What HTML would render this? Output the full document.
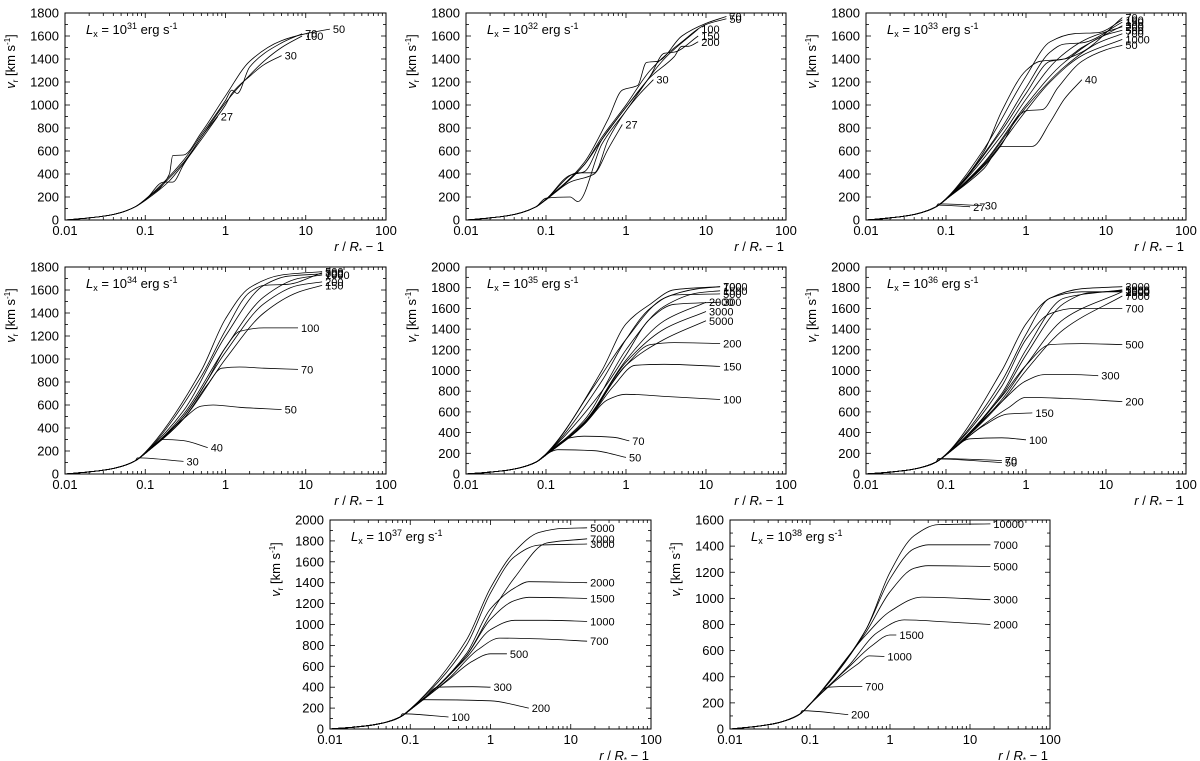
<!DOCTYPE html>
<html><head><meta charset="utf-8"><style>
body{margin:0;background:#fff}
svg{display:block}
text{font-family:"Liberation Sans",sans-serif;fill:#000}
</style></head><body>
<svg id="fig" width="1200" height="761" viewBox="0 0 1200 761"></svg>
<script>
const B=[[0.01,0],[0.02,18],[0.035,40],[0.05,65],[0.075,115]];
const xTicks=[0.01,0.1,1,10,100];
const xTickLabels=["0.01","0.1","1","10","100"];
const lumExp=["31","32","33","34","35","36","37","38"];
const yMaxes=[1800,1800,1800,1800,2000,2000,2000,1600];
const p1=[
 ["27",[...B,[0.1,170],[0.2,340],[0.3,490],[0.5,700],[0.8,900]]],
 ["30",[...B,[0.1,175],[0.17,330],[0.22,330],[0.3,480],[0.5,720],[1,1000],[1.2,1100],[2,1250],[3,1350],[5,1430]]],
 ["50",[...B,[0.1,180],[0.2,400],[0.22,560],[0.3,565],[0.5,760],[1,1080],[2,1380],[5,1560],[10,1620],[20,1660]]],
 ["70",[...B,[0.1,180],[0.3,520],[0.5,740],[1,1040],[1.2,1130],[1.4,1100],[2,1330],[5,1540],[9,1620]]],
 ["100",[...B,[0.1,175],[0.3,500],[0.5,720],[1,1020],[2,1260],[3,1380],[5,1500],[9,1600]]]];
const p2=[
 ["27",[...B,[0.1,175],[0.2,330],[0.4,400],[0.6,620],[0.9,830]]],
 ["30",[...B,[0.1,180],[0.25,410],[0.4,410],[0.6,700],[1,950],[1.5,1100],[2.2,1220]]],
 ["50",[...B,[0.1,180],[0.3,480],[0.5,720],[1,1000],[2,1300],[5,1550],[10,1700],[18,1750]]],
 ["70",[...B,[0.1,180],[0.3,500],[0.6,880],[0.9,1130],[1.4,1170],[1.8,1370],[2.5,1380],[5,1600],[10,1710],[18,1770]]],
 ["100",[...B,[0.1,190],[0.2,200],[0.25,160],[0.5,660],[1,950],[3,1400],[8,1660]]],
 ["150",[...B,[0.1,180],[0.2,390],[0.3,420],[0.5,700],[1,980],[2,1250],[3,1450],[4,1460],[8,1600]]],
 ["200",[...B,[0.1,180],[0.3,480],[0.5,700],[1,980],[2,1240],[4,1420],[5,1510],[6,1510],[8,1550]]]];
const p3=[
 ["27",[...B,[0.08,130],[0.2,115]]],
 ["30",[...B,[0.08,140],[0.28,125]]],
 ["40",[...B,[0.1,180],[0.3,450],[0.5,640],[1.2,640],[2,850],[3,1050],[5,1220]]],
 ["50",[...B,[0.1,180],[0.3,470],[0.5,660],[0.8,900],[1,950],[1.6,960],[2.5,1150],[5,1380],[10,1480],[16,1520]]],
 ["1000",[...B,[0.1,180],[0.3,480],[1,950],[2,1200],[5,1430],[16,1570]]],
 ["700",[...B,[0.1,180],[0.3,490],[1,980],[3,1330],[8,1540],[16,1620]]],
 ["500",[...B,[0.1,180],[0.3,500],[1,1000],[3,1370],[10,1610],[16,1650]]],
 ["200",[...B,[0.1,180],[0.5,740],[1,1050],[2.5,1400],[6,1580],[16,1680]]],
 ["300",[...B,[0.1,180],[0.5,780],[1,1100],[2,1380],[3,1400],[5,1500],[16,1690]]],
 ["150",[...B,[0.1,180],[0.4,700],[1,1150],[2,1460],[3,1530],[5,1540],[16,1720]]],
 ["100",[...B,[0.1,185],[0.3,620],[1,1250],[2,1550],[4,1620],[8,1630],[16,1740]]],
 ["70",[...B,[0.1,185],[0.3,600],[0.5,950],[1,1300],[1.5,1380],[3,1400],[5,1460],[16,1760]]]];
const p4=[
 ["30",[...B,[0.08,140],[0.3,110]]],
 ["40",[...B,[0.1,180],[0.17,300],[0.3,290],[0.6,230]]],
 ["50",[...B,[0.1,180],[0.3,480],[0.5,590],[0.7,600],[1.5,580],[5,560]]],
 ["70",[...B,[0.1,180],[0.3,480],[0.6,780],[0.9,920],[1.5,930],[3,920],[8,910]]],
 ["100",[...B,[0.1,180],[0.3,500],[0.6,820],[1,1100],[1.5,1240],[3,1270],[8,1270]]],
 ["150",[...B,[0.1,180],[0.3,480],[1,1000],[3,1400],[8,1580],[16,1640]]],
 ["200",[...B,[0.1,180],[0.3,500],[1,1060],[3,1480],[8,1640],[16,1670]]],
 ["1000",[...B,[0.1,180],[0.3,520],[1,1100],[3,1540],[8,1700],[16,1730]]],
 ["700",[...B,[0.1,185],[0.3,550],[1,1200],[3,1640],[6,1720],[16,1740]]],
 ["300",[...B,[0.1,185],[0.5,850],[1,1250],[2,1580],[3,1640],[6,1650],[16,1750]]],
 ["500",[...B,[0.1,190],[0.5,900],[1,1350],[2,1620],[5,1730],[16,1760]]]];
const p5=[
 ["50",[...B,[0.1,190],[0.14,235],[0.4,225],[1,160]]],
 ["70",[...B,[0.1,190],[0.2,350],[0.3,365],[0.7,355],[1.1,320]]],
 ["100",[...B,[0.1,185],[0.3,480],[0.6,720],[1,770],[3,750],[15,720]]],
 ["150",[...B,[0.1,185],[0.3,480],[0.7,850],[1.3,1050],[3,1060],[15,1040]]],
 ["200",[...B,[0.1,185],[0.3,500],[1,1050],[2,1250],[4,1270],[15,1260]]],
 ["5000",[...B,[0.1,185],[0.3,480],[1,1050],[3,1300],[10,1480]]],
 ["3000",[...B,[0.1,185],[0.3,490],[1,1080],[3,1400],[10,1570]]],
 ["300",[...B,[0.1,190],[0.5,800],[1,1150],[2,1500],[4,1640],[15,1660]]],
 ["2000",[...B,[0.1,185],[0.3,500],[1,1100],[3,1480],[10,1660]]],
 ["1500",[...B,[0.1,190],[0.3,520],[1,1200],[3,1620],[8,1750],[15,1770]]],
 ["500",[...B,[0.1,190],[0.5,900],[1,1300],[2,1600],[4,1730],[15,1740]]],
 ["700",[...B,[0.1,195],[0.5,1000],[1,1450],[2,1640],[4,1780],[15,1810]]],
 ["1000",[...B,[0.1,190],[0.4,850],[1,1300],[3,1700],[8,1790],[15,1810]]]];
const p6=[
 ["50",[...B,[0.08,145],[0.5,110]]],
 ["70",[...B,[0.08,150],[0.5,130]]],
 ["100",[...B,[0.1,185],[0.2,340],[0.5,350],[1,330]]],
 ["150",[...B,[0.1,185],[0.3,470],[0.6,580],[1.2,590]]],
 ["200",[...B,[0.1,185],[0.3,480],[0.6,640],[1,740],[3,730],[16,700]]],
 ["300",[...B,[0.1,185],[0.5,700],[1,900],[1.7,960],[4,960],[8,950]]],
 ["500",[...B,[0.1,185],[0.5,750],[1,1050],[2,1250],[5,1260],[16,1250]]],
 ["700",[...B,[0.1,190],[0.5,850],[1,1300],[2,1550],[4,1600],[16,1600]]],
 ["7000",[...B,[0.1,185],[0.5,700],[1,1000],[3,1400],[16,1720]]],
 ["1500",[...B,[0.1,185],[0.5,720],[1,1050],[3,1500],[16,1760]]],
 ["1000",[...B,[0.1,185],[0.5,760],[1,1150],[3,1650],[6,1750],[16,1770]]],
 ["5000",[...B,[0.1,185],[0.5,780],[1,1200],[3,1700],[16,1780]]],
 ["2000",[...B,[0.1,190],[0.5,900],[1,1350],[2,1700],[5,1760],[16,1760]]],
 ["3000",[...B,[0.1,190],[0.5,1000],[1,1450],[2,1700],[5,1790],[16,1810]]]];
const p7=[
 ["100",[...B,[0.08,145],[0.3,115]]],
 ["200",[...B,[0.1,190],[0.15,280],[1,270],[3,200]]],
 ["300",[...B,[0.1,190],[0.15,300],[0.22,400],[0.6,405],[1,400]]],
 ["500",[...B,[0.1,185],[0.3,470],[0.6,650],[1,720],[1.6,720]]],
 ["700",[...B,[0.1,185],[0.3,480],[0.7,760],[1.3,870],[5,860],[16,840]]],
 ["1000",[...B,[0.1,185],[0.5,680],[1,950],[2,1040],[5,1040],[16,1030]]],
 ["1500",[...B,[0.1,185],[0.5,700],[1,1050],[2,1230],[3,1260],[16,1250]]],
 ["2000",[...B,[0.1,185],[0.5,720],[1,1150],[2,1350],[3,1410],[16,1400]]],
 ["3000",[...B,[0.1,190],[0.5,800],[1,1300],[2,1650],[4,1760],[16,1770]]],
 ["7000",[...B,[0.1,185],[0.5,700],[1,1100],[2,1450],[5,1780],[16,1820]]],
 ["5000",[...B,[0.1,190],[0.5,850],[1,1350],[2,1700],[4,1880],[8,1920],[16,1925]]]];
const p8=[
 ["200",[...B,[0.08,140],[0.3,110]]],
 ["700",[...B,[0.1,190],[0.17,320],[0.3,325],[0.45,325]]],
 ["1000",[...B,[0.1,190],[0.2,360],[0.4,500],[0.55,560],[0.85,555]]],
 ["1500",[...B,[0.1,190],[0.3,470],[0.6,640],[1,720],[1.2,720]]],
 ["2000",[...B,[0.1,190],[0.3,480],[0.7,740],[1.5,835],[5,820],[18,800]]],
 ["3000",[...B,[0.1,190],[0.5,720],[1,900],[2.5,1010],[18,990]]],
 ["5000",[...B,[0.1,190],[0.5,740],[1,1050],[2,1230],[3,1250],[18,1245]]],
 ["7000",[...B,[0.1,190],[0.5,760],[1,1150],[2,1380],[3,1410],[18,1410]]],
 ["10000",[...B,[0.1,190],[0.5,760],[1,1200],[2,1480],[4,1565],[18,1570]]]];
const panelsData=[p1,p2,p3,p4,p5,p6,p7,p8];

const rects=[[65,13,386,220],[466,13,786,220],[866,13,1186,220],[65,267,386,474],[466,267,786,474],[866,267,1186,474],[330,520,651,729],[730,520,1050,729]];
const NS="http://www.w3.org/2000/svg";
const svg=document.getElementById('fig');
function mk(tag,attrs,parent){const e=document.createElementNS(NS,tag);for(const k in attrs)e.setAttribute(k,attrs[k]);(parent||svg).appendChild(e);return e;}
function monotone(pts){
 const n=pts.length;if(n<2)return "";
 const dx=[],s=[],m=[];
 for(let i=0;i<n-1;i++){dx[i]=pts[i+1][0]-pts[i][0];s[i]=(pts[i+1][1]-pts[i][1])/(dx[i]||1e-6);}
 m[0]=s[0];m[n-1]=s[n-2];
 for(let i=1;i<n-1;i++){m[i]=(s[i-1]*s[i]<=0)?0:3*(dx[i-1]+dx[i])/((2*dx[i]+dx[i-1])/s[i-1]+(dx[i]+2*dx[i-1])/s[i]);}
 let d="M"+pts[0][0].toFixed(1)+","+pts[0][1].toFixed(1);
 for(let i=0;i<n-1;i++){const h=dx[i]/3;d+=" C"+(pts[i][0]+h).toFixed(1)+","+(pts[i][1]+m[i]*h).toFixed(1)+" "+(pts[i+1][0]-h).toFixed(1)+","+(pts[i+1][1]-m[i+1]*h).toFixed(1)+" "+pts[i+1][0].toFixed(1)+","+pts[i+1][1].toFixed(1);}
 return d;
}
rects.forEach((r,pi)=>{
 const [x0,y0,x1,y1]=r,ymax=yMaxes[pi];
 const g=mk('g',{});
 
 
 const sx=v=>x0+(Math.log10(v)+2)/4*(x1-x0);
 const sy=v=>y1-v/ymax*(y1-y0);
 const ax=mk('g',{stroke:'#000','stroke-width':0.8},g);
 
 
 for(let d=-2;d<2;d++)for(let k=1;k<10;k++){const v=k*Math.pow(10,d);const X=sx(v);const L=k==1?5:3;
  mk('line',{x1:X,x2:X,y1:y1,y2:y1-L},ax);mk('line',{x1:X,x2:X,y1:y0,y2:y0+L},ax);}
 for(let v=0;v<=ymax;v+=100){const Y=sy(v);const L=v%200==0?5:3;
  mk('line',{x1:x0,x2:x0+L,y1:Y,y2:Y},ax);mk('line',{x1:x1,x2:x1-L,y1:Y,y2:Y},ax);}
 xTicks.forEach((v,i)=>{const t=mk('text',{x:sx(v),y:y1+15,'font-size':13,'text-anchor':'middle'},g);t.textContent=xTickLabels[i];
  });
 for(let v=0;v<=ymax;v+=200){const t=mk('text',{x:x0-6,y:sy(v)+4.5,'font-size':13,'text-anchor':'end'},g);t.textContent=v;
  }
 panelsData[pi].forEach(c=>{
  const pts=c[1].map(p=>[sx(p[0]),sy(p[1])]);
  const path=mk('path',{d:monotone(pts),fill:'none',stroke:'#000','stroke-width':0.8},g);
  
  
  const e=pts[pts.length-1];
  const t=mk('text',{x:e[0]+3,y:e[1]+4,'font-size':11},g);t.textContent=c[0];
  
  
 });
 const fr=mk('rect',{x:x0,y:y0,width:x1-x0,height:y1-y0,fill:'none',stroke:'#000','stroke-width':1},g);
 
 const a=mk('text',{x:x0+21,y:y0+21,'font-size':13},g);
 a.innerHTML='<tspan font-style="italic">L</tspan><tspan font-size="9" dy="3">x</tspan><tspan dy="-3"> = 10</tspan><tspan font-size="9" dy="-5">'+lumExp[pi]+'</tspan><tspan dy="5"> erg s</tspan><tspan font-size="9" dy="-5">-1</tspan>';
 
 const xt=mk('text',{x:x1-2,y:y1+31,'font-size':13,'text-anchor':'end'},g);
 xt.innerHTML='<tspan font-style="italic">r</tspan> / <tspan font-style="italic">R</tspan><tspan font-size="8" dy="3">*</tspan><tspan dy="-3"> − 1</tspan>';
 
 const cy=(y0+y1)/2-55;
 const yt=mk('text',{x:0,y:0,'font-size':13,'text-anchor':'middle',transform:'translate('+(x0-50)+','+cy+') rotate(-90)'},g);
 yt.innerHTML='<tspan font-style="italic">v</tspan><tspan font-size="8" dy="3">r</tspan><tspan dy="-3"> [km s</tspan><tspan font-size="8" dy="-5">-1</tspan><tspan dy="5">]</tspan>';
 
});
</script>
</body></html>
